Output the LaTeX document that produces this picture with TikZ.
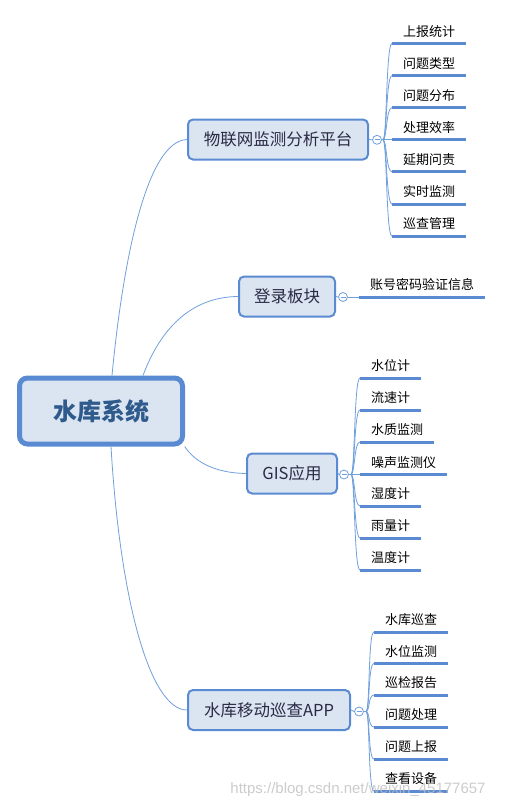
\documentclass[tikz,border=0pt]{standalone}
\usepackage{fontspec}
\setmainfont{Noto Sans CJK SC}
\newfontfamily\wmfont{Liberation Sans}
\definecolor{bordc}{HTML}{5A8AD2}
\definecolor{boxfill}{HTML}{DBE5F1}
\definecolor{connc}{HTML}{6F9FDC}
\definecolor{ulc}{HTML}{5A8AD2}
\definecolor{roottext}{HTML}{2F5B8C}
\definecolor{branchtext}{HTML}{2A2A45}
\begin{document}
\begin{tikzpicture}[x=1pt,y=-1pt,
  root/.style={draw=bordc, fill=boxfill, line width=5pt, rounded corners=8pt,
    minimum width=163pt, minimum height=66pt, inner sep=0pt,
    font=\fontsize{24}{28}\selectfont\bfseries, text=roottext},
  branch/.style={draw=bordc, fill=boxfill, line width=2pt, rounded corners=5pt,
    minimum height=40pt, inner sep=0pt,
    font=\fontsize{16.5}{20}\selectfont, text=branchtext},
  leaf/.style={anchor=south west, inner xsep=11pt, inner ysep=5pt,
    text height=11pt, text depth=2pt, font=\fontsize{13}{15}\selectfont, text=black},
  ul/.style={draw=ulc, line width=3pt},
  conn/.style={draw=connc, line width=0.8pt},
  knob/.style={circle, draw=connc, fill=white, line width=0.8pt, minimum size=9pt,
    inner sep=0pt, path picture={\draw[connc, line width=0.8pt]
      ([xshift=-2.5pt]path picture bounding box.center) --
      ([xshift=2.5pt]path picture bounding box.center);}}
]
\useasboundingbox (0,0) rectangle (504,808);

% root and branches
\node[root] (root) at (101,411) {水库系统};
\node[branch, minimum width=180pt] (b1) at (278,139.5) {物联网监测分析平台};
\node[branch, minimum width=96pt] (b2) at (287,296.5) {登录板块};
\node[branch, minimum width=90pt] (b3) at (292,473.5) {GIS应用};
\node[branch, minimum width=162pt] (b4) at (269,710) {水库移动巡查APP};

% root connectors
\draw[conn] ([xshift=11pt]root.north) .. controls (122,270) and (145,141) .. (b1.west);
\draw[conn] ([xshift=42pt]root.north) .. controls (160,330) and (190,297) .. (b2.west);
\draw[conn] (root.-23) .. controls (195,462) and (215,473) .. (b3.west);
\draw[conn] ([xshift=10pt]root.south) .. controls (120,600) and (150,710) .. (b4.west);

% knobs
\node[knob] (k1) at (377,139.8) {};
\node[knob] (k2) at (343,297) {};
\node[knob] (k3) at (344,474.5) {};
\node[knob] (k4) at (359,711.5) {};
\draw[conn] (b1.east) -- (k1.west);
\draw[conn] (b2.east) -- (k2.west);
\draw[conn] (b3.east) -- (k3.west);
\draw[conn] (b4.east) -- (k4.west);
\coordinate (f1) at (383,139.8);
\coordinate (f3) at (351,474.5);
\coordinate (f4) at (366,711.5);
\draw[conn] (k1.east) -- (f1);
\draw[conn] (k3.east) -- (f3);
\draw[conn] (k4.east) -- (f4);

% branch 1 leaves
\foreach \t/\y [count=\i] in {上报统计/43.5, 问题类型/75.6, 问题分布/107.7, 处理效率/139.8,
    延期问责/171.9, 实时监测/204, 巡查管理/236.1} {
  \node[leaf] (a\i) at (392,\y) {\t};
  \draw[conn] (f1) .. controls +(4,0) and +(-6,0) .. (a\i.south west);
  \draw[ul] (a\i.south west) -- (a\i.south east);
}

% branch 2 leaf
\node[leaf] (l1) at (359,297) {账号密码验证信息};
\draw[conn] (k2.east) -- (l1.south west);
\draw[ul] (l1.south west) -- (l1.south east);

% branch 3 leaves
\foreach \t/\y [count=\i] in {水位计/378, 流速计/410, 水质监测/442, 噪声监测仪/474.5,
    湿度计/506, 雨量计/538, 温度计/570} {
  \node[leaf] (g\i) at (360,\y) {\t};
  \draw[conn] (f3) .. controls +(4,0) and +(-6,0) .. (g\i.south west);
  \draw[ul] (g\i.south west) -- (g\i.south east);
}

% branch 4 leaves
\foreach \t/\y [count=\i] in {水库巡查/632, 水位监测/663.5, 巡检报告/695, 问题处理/727,
    问题上报/759, 查看设备/791} {
  \node[leaf] (p\i) at (374,\y) {\t};
  \draw[conn] (f4) .. controls +(4,0) and +(-6,0) .. (p\i.south west);
  \draw[ul] (p\i.south west) -- (p\i.south east);
}

% watermark
\node[font=\wmfont\fontsize{15}{18}\selectfont, text=black!25, opacity=0.8] (wm) at (358,790)
  {https://blog.csdn.net/weixin\_45177657};
\end{tikzpicture}
\end{document}
